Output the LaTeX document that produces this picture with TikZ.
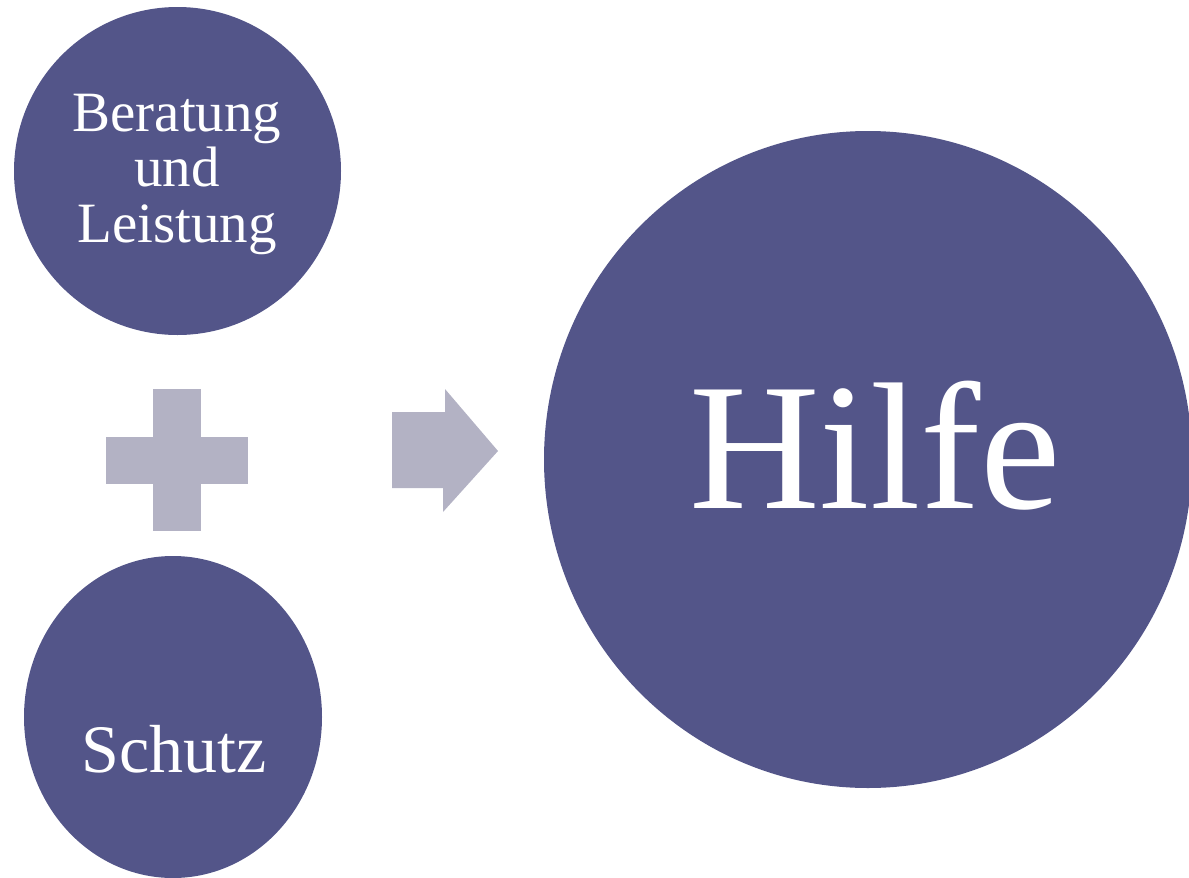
\documentclass[tikz,border=0pt]{standalone}
\usepackage{fontspec}
\setmainfont{Liberation Serif}
\usetikzlibrary{shapes.geometric}
\definecolor{bubcol}{RGB}{83,85,137}
\definecolor{signcol}{RGB}{179,178,196}
\begin{document}
\begin{tikzpicture}
[x=1pt,y=-1pt,
bubble/.style={ellipse,fill=bubcol,inner sep=0pt},
bubtext/.style={text=white,inner sep=0pt,align=center},
sign/.style={fill=signcol}
]
\useasboundingbox (0,0) rectangle (1189,878);
% the two parts
\node[bubble,minimum width=327pt,minimum height=328pt] (beratung) at (177.5,171) {};
\node[bubble,minimum width=298pt,minimum height=322pt] (schutz) at (173,717) {};
\node[bubtext,font=\fontsize{57}{55.5}\selectfont] (beratungtext) at (177,174) {Beratung\\und\\Leistung};
\node[bubtext,font=\fontsize{68}{70}\selectfont,anchor=base] (schutztext) at (174,772) {Schutz};
% plus and arrow
\fill[sign] (106,437) rectangle (248,484);
\fill[sign] (153,389) rectangle (201,531);
\fill[sign] (392,412) -- (445,412) -- (445,389) -- (498,451) -- (443,512) -- (443,488) -- (392,488) -- cycle;
% result
\node[bubble,minimum width=648pt,minimum height=657pt] (hilfe) at (868,459.5) {};
\node[bubtext,font=\fontsize{181}{181}\selectfont,anchor=base] (hilfetext) at (875,508) {Hilfe};
\end{tikzpicture}
\end{document}
